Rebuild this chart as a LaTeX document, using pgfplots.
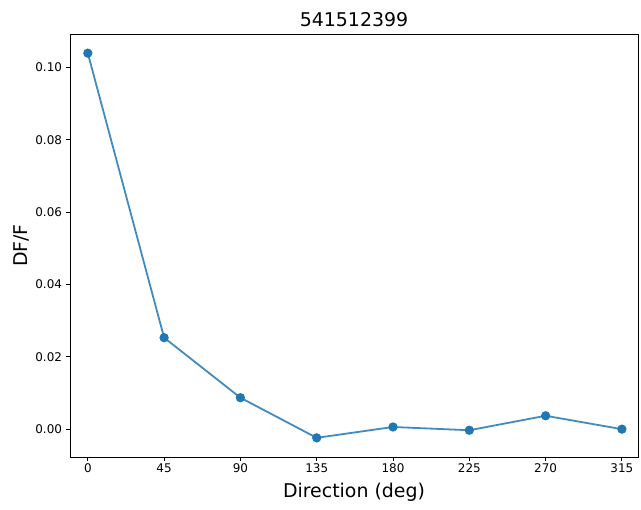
\documentclass[border=0pt]{standalone}
\usepackage{pgfplots}
\pgfplotsset{compat=1.18}
\usepackage{fontspec}
\setmainfont{DejaVu Sans}
\definecolor{c0}{HTML}{1F77B4}
\begin{document}
\begin{tikzpicture}[x=1bp,y=1bp]
\path[use as bounding box] (0,0) rectangle (641,510);
\begin{axis}[
  at={(70bp,53bp)}, anchor=south west,
  scale only axis, width=568bp, height=423bp,
  xmin=-10.5, xmax=324.5,
  ymin=-0.0077, ymax=0.1093,
  xtick={0,45,90,135,180,225,270,315},
  ytick={0,0.02,0.04,0.06,0.08,0.10},
  yticklabel style={/pgf/number format/.cd,fixed,fixed zerofill,precision=2},
  /pgf/number format/assume math mode=true,
  scaled y ticks=false,
  tick align=outside, tick pos=left,
  major tick length=4.5bp,
  tick style={black, line width=0.9bp},
  axis line style={line width=0.9bp},
  ticklabel style={font=\fontsize{12}{14}\selectfont},
  xticklabel style={yshift=1bp},
  title={541512399},
  title style={font=\fontsize{19}{22}\selectfont, yshift=-2bp},
  xlabel={Direction (deg)},
  ylabel={DF/F},
  label style={font=\fontsize{19}{22}\selectfont},
  xlabel style={yshift=-3bp},
  ylabel style={yshift=-1bp},
]
\addplot[color=c0!85!white, line width=1.8bp, mark=*, mark size=3.7bp, mark options={fill=c0, draw=c0}] coordinates {
(0,0.1040) (45,0.0253) (90,0.0087) (135,-0.0024) (180,0.0006) (225,-0.0003) (270,0.0037) (315,0.0000)
};
\end{axis}
\end{tikzpicture}
\end{document}
